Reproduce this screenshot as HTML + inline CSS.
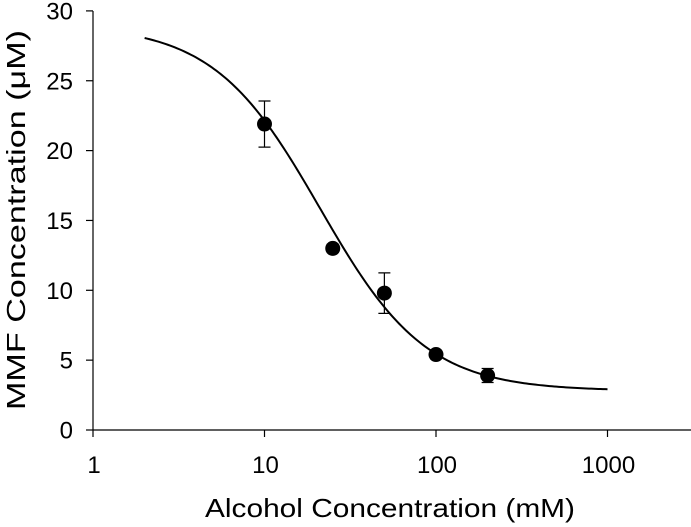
<!DOCTYPE html>
<html><head><meta charset="utf-8"><style>
body{margin:0;background:#fff}
svg{display:block;font-family:"Liberation Sans",Arial,sans-serif}
</style></head><body>
<svg id="c" width="691" height="527"></svg>
<script>
const xVals=[10,25,50,100,200];
const yVals=[21.9,13.0,9.8,5.4,3.9];
const errVals=[1.65,0.3,1.45,0.3,0.5];
const fitParams=[29.0,2.8,21,1.4]; // top,bottom,ic50,hill
const fitRange=[2,1000];
const xTicks=[1,10,100,1000];
const yTicks=[0,5,10,15,20,25,30];
const ns="http://www.w3.org/2000/svg";
const svg=document.getElementById('c');
const X=v=>93+(Math.log10(v))*171.5;
const Y=v=>430-v*13.97;
function mk(t,a,p){const e=document.createElementNS(ns,t);for(const k in a)e.setAttribute(k,a[k]);(p||svg).appendChild(e);return e;}
let e;
e=mk('line',{x1:93,y1:11,x2:93,y2:430,stroke:'#000','stroke-width':1.2});


e=mk('line',{x1:93,y1:430,x2:691,y2:430,stroke:'#000','stroke-width':1.2});


yTicks.forEach(t=>{
 e=mk('line',{x1:86,y1:Y(t),x2:93,y2:Y(t),stroke:'#000','stroke-width':1.2});
 
 
 e=mk('text',{x:73,y:Y(t)+8.5,'text-anchor':'end','font-size':24});e.textContent=t;
 
 
});
xTicks.forEach(t=>{
 e=mk('line',{x1:X(t),y1:430,x2:X(t),y2:437,stroke:'#000','stroke-width':1.2});
 
 
 e=mk('text',{x:X(t)+1,y:473,'text-anchor':'middle','font-size':24});e.textContent=t;
 
 
});
e=mk('text',{x:390,y:517,'text-anchor':'middle','font-size':26,textLength:370,lengthAdjust:'spacingAndGlyphs'});e.textContent='Alcohol Concentration (mM)';


e=mk('text',{x:0,y:0,'text-anchor':'middle','font-size':26,textLength:380,lengthAdjust:'spacingAndGlyphs',transform:'translate(25,220) rotate(-90)'});e.textContent='MMF Concentration (\u03BCM)';


const pTop=fitParams[0],pBot=fitParams[1],pIc=fitParams[2],pHill=fitParams[3];
let d='';
const l0=Math.log10(fitRange[0]),l1=Math.log10(fitRange[1]);
for(let i=0;i<=200;i++){const x=Math.pow(10,l0+(l1-l0)*i/200);const y=pBot+(pTop-pBot)/(1+Math.pow(x/pIc,pHill));d+=(i?'L':'M')+X(x).toFixed(2)+' '+Y(y).toFixed(2);}
e=mk('path',{d:d,fill:'none',stroke:'#000','stroke-width':2});


xVals.forEach((x,i)=>{
 const cx=X(x),y1=Y(yVals[i]-errVals[i]),y2=Y(yVals[i]+errVals[i]);
 e=mk('path',{d:`M${cx} ${y1}V${y2}M${cx-6} ${y1}H${cx+6}M${cx-6} ${y2}H${cx+6}`,stroke:'#000','stroke-width':1.2,fill:'none'});
 
 
 e=mk('circle',{cx:cx,cy:Y(yVals[i]),r:7.5,fill:'#000'});
 
 
});
</script>
</body></html>
